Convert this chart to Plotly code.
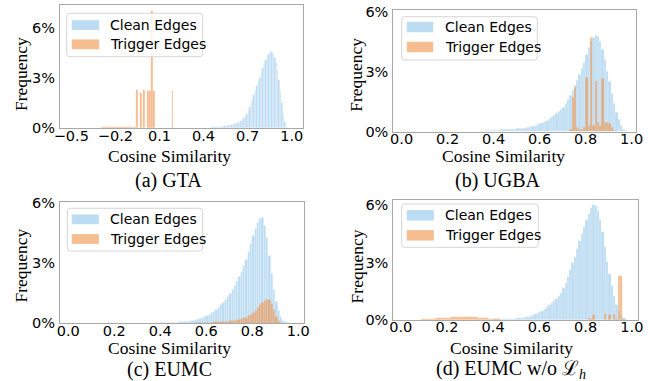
import plotly.graph_objects as go

W, H = 657, 381
BIN_W = 0.01

# ---------------- data (percent per 0.01-wide bin) ----------------
# (a) GTA
clean_a_start = 0.40
clean_a = [0.02, 0.03, 0.03, 0.04, 0.04, 0.05, 0.05, 0.06, 0.06, 0.07,
           0.08, 0.09, 0.10, 0.11, 0.12, 0.13, 0.15, 0.17, 0.19, 0.21,
           0.23, 0.26, 0.29, 0.33, 0.37, 0.42, 0.50, 0.60, 0.72, 0.86,
           1.02, 1.25, 1.50, 1.75, 2.00, 2.25, 2.50, 2.75, 3.00, 3.30,
           3.60, 3.90, 4.10, 4.25, 4.40, 4.60, 4.55, 4.45, 4.20, 3.90,
           3.50, 2.90, 2.20, 1.50, 0.85, 0.35, 0.10]
trig_a_low_start = -0.33
trig_a_low = [0.02, 0.03, 0.04, 0.05, 0.05, 0.06, 0.07, 0.07, 0.08, 0.08,
              0.09, 0.09, 0.10, 0.10, 0.10, 0.10, 0.09, 0.09, 0.09, 0.08,
              0.08, 0.08, 0.07, 0.07, 0.06, 0.06, 0.05]
trig_a_spike_x = [-0.055, -0.028, -0.007, 0.024, 0.036, 0.049, 0.063, 0.188]
trig_a_spike_y = [2.3, 2.1, 2.3, 2.2, 2.2, 7.0, 2.2, 2.2]

# (b) UGBA
clean_b_start = 0.35
clean_b = [0.03, 0.03, 0.04, 0.05, 0.05, 0.06, 0.07, 0.08, 0.09, 0.10,
           0.10, 0.11, 0.12, 0.12, 0.13, 0.14, 0.15, 0.17, 0.18, 0.20,
           0.22, 0.25, 0.28, 0.31, 0.35, 0.40, 0.45, 0.52, 0.58, 0.66,
           0.74, 0.82, 0.90, 1.00, 1.10, 1.20, 1.40, 1.60, 1.80, 2.05,
           2.30, 2.55, 2.85, 3.15, 3.45, 3.85, 4.20, 4.50, 4.70, 4.80,
           4.75, 4.50, 4.10, 3.60, 3.00, 2.50, 1.90, 1.40, 0.95, 0.60,
           0.30, 0.12, 0.04]
trig_b_start = 0.73
trig_b = [0.10, 1.70, 2.20, 0.20, 0.10, 0.10, 0.20, 2.70, 0.30, 4.70,
          0.30, 2.50, 0.45, 0.30, 2.65, 0.45, 0.45, 0.40, 0.20, 0.05]

# (c) EUMC
clean_c_start = 0.40
clean_c = [0.02, 0.02, 0.03, 0.03, 0.04, 0.04, 0.05, 0.05, 0.06, 0.07,
           0.08, 0.09, 0.10, 0.12, 0.14, 0.17, 0.20, 0.24, 0.28, 0.33,
           0.39, 0.45, 0.52, 0.60, 0.70, 0.80, 0.92, 1.05, 1.20, 1.35,
           1.50, 1.68, 1.88, 2.10, 2.35, 2.60, 2.90, 3.20, 3.60, 4.00,
           4.40, 4.75, 5.05, 5.25, 5.30, 4.90, 4.30, 3.40, 2.50, 1.70,
           1.10, 0.65, 0.35, 0.15, 0.06, 0.02]
trig_c_start = 0.55
trig_c = [0.02, 0.02, 0.03, 0.03, 0.04, 0.04, 0.05, 0.05, 0.06, 0.06,
          0.07, 0.07, 0.08, 0.09, 0.10, 0.11, 0.13, 0.15, 0.17, 0.20,
          0.23, 0.26, 0.30, 0.36, 0.45, 0.55, 0.65, 0.78, 0.92, 1.05,
          1.15, 1.20, 1.18, 1.00, 0.70, 0.35, 0.12, 0.04]

# (d) EUMC w/o L_h
clean_d_start = 0.35
clean_d = [0.01, 0.01, 0.02, 0.02, 0.02, 0.03, 0.03, 0.04, 0.05, 0.05,
           0.05, 0.06, 0.06, 0.07, 0.07, 0.08, 0.09, 0.10, 0.12, 0.14,
           0.17, 0.20, 0.24, 0.30, 0.36, 0.42, 0.49, 0.57, 0.66, 0.76,
           0.87, 0.98, 1.12, 1.27, 1.43, 1.65, 1.95, 2.25, 2.60, 2.95,
           3.30, 3.70, 4.10, 4.50, 4.85, 5.20, 5.55, 5.85, 6.00, 5.95,
           5.70, 5.20, 4.60, 3.80, 3.00, 2.40, 1.80, 1.25, 0.80, 0.45,
           0.20, 0.08, 0.03]
trig_d_low_start = 0.08
trig_d_low = [0.02, 0.03, 0.04, 0.05, 0.05, 0.06, 0.07, 0.08, 0.09, 0.10,
              0.11, 0.12, 0.13, 0.13, 0.14, 0.15, 0.15, 0.16, 0.16, 0.17,
              0.18, 0.17, 0.16, 0.15, 0.14, 0.12, 0.11, 0.10, 0.09, 0.08,
              0.07, 0.06, 0.05, 0.04, 0.03, 0.02, 0.02]
trig_d_high_start = 0.80
trig_d_high = [0.00, 0.10, 0.03, 0.26, 0.02, 0.02, 0.02, 0.02, 0.30, 0.02,
               0.28, 0.02, 0.30, 0.05, 2.30, 2.32, 0.05]

x_ticks_a = [-0.5, -0.2, 0.1, 0.4, 0.7, 1.0]
x_labels_a = ["\u22120.5", "\u22120.2", "0.1", "0.4", "0.7", "1.0"]
x_ticks = [0.0, 0.2, 0.4, 0.6, 0.8, 1.0]
x_labels = ["0.0", "0.2", "0.4", "0.6", "0.8", "1.0"]
y_ticks = [0, 3, 6]
y_labels = ["0%", "3%", "6%"]
captions = ["(a) GTA", "(b) UGBA", "(c) EUMC", "(d) EUMC w/o \u2112<sub><i>h</i></sub>"]
series_names = ["Clean Edges", "Trigger Edges"]

# ---------------- styling ----------------
BLUE = "rgba(120,185,230,0.5)"
ORANGE = "rgba(238,145,70,0.6)"
EDGE = "rgba(255,255,255,0.55)"
EDGE_O = "rgba(255,255,255,0.3)"
SANS = "DejaVu Sans"
SERIF = "Liberation Serif"


def X(px):
    return px / W


def Y(py):
    return 1 - py / H


def centers(start, vals):
    return [round(start + i * BIN_W + BIN_W / 2, 4) for i in range(len(vals))]


fig = go.Figure()

panels = [
    dict(sfx="", dom_x=(60, 303), dom_y=(5, 128.3), xr=(-0.577, 1.077), yr=(0, 7.35),
         tv=x_ticks_a, tt=x_labels_a,
         clean=(clean_a_start, clean_a),
         trig=[(centers(trig_a_low_start, trig_a_low), trig_a_low, BIN_W),
               (trig_a_spike_x, trig_a_spike_y, 0.012)]),
    dict(sfx="2", dom_x=(393.3, 636), dom_y=(9.5, 131.7), xr=(-0.036, 1.019), yr=(0, 6.11),
         tv=x_ticks, tt=x_labels,
         clean=(clean_b_start, clean_b),
         trig=[(centers(trig_b_start, trig_b), trig_b, BIN_W)]),
    dict(sfx="3", dom_x=(60, 304), dom_y=(201.7, 323.3), xr=(-0.036, 1.025), yr=(0, 6.08),
         tv=x_ticks, tt=x_labels,
         clean=(clean_c_start, clean_c),
         trig=[(centers(trig_c_start, trig_c), trig_c, BIN_W)]),
    dict(sfx="4", dom_x=(393.3, 638.3), dom_y=(200, 320), xr=(-0.032, 1.028), yr=(0, 6.26),
         tv=x_ticks, tt=x_labels,
         clean=(clean_d_start, clean_d),
         trig=[(centers(trig_d_low_start, trig_d_low), trig_d_low, BIN_W),
               (centers(trig_d_high_start, trig_d_high), trig_d_high, BIN_W)]),
]

layout_axes = {}
for p in panels:
    s = p["sfx"]
    xa, ya = "x" + s, "y" + s
    cs, cv = p["clean"]
    fig.add_trace(go.Bar(x=centers(cs, cv), y=cv, width=BIN_W, xaxis=xa, yaxis=ya,
                         marker=dict(color=BLUE, line=dict(color=EDGE, width=0.5)),
                         name=series_names[0], showlegend=False))
    for tx, ty, bw in p["trig"]:
        fig.add_trace(go.Bar(x=tx, y=ty, width=bw, xaxis=xa, yaxis=ya,
                             marker=dict(color=ORANGE, line=dict(color=EDGE_O, width=0.3)),
                             name=series_names[1], showlegend=False))
    common = dict(showline=True, linecolor="#a8a8a8", linewidth=1, mirror=True,
                  showgrid=False, zeroline=False, ticks="",
                  tickfont=dict(family=SANS, size=14.5, color="black"))
    layout_axes["xaxis" + s] = dict(domain=[X(p["dom_x"][0]), X(p["dom_x"][1])],
                                    range=list(p["xr"]), anchor=ya,
                                    tickmode="array", tickvals=p["tv"], ticktext=p["tt"],
                                    ticklabelstandoff=-6, **common)
    layout_axes["yaxis" + s] = dict(domain=[Y(p["dom_y"][1]), Y(p["dom_y"][0])],
                                    range=list(p["yr"]), anchor=xa,
                                    tickmode="array", tickvals=y_ticks, ticktext=y_labels,
                                    ticklabelstandoff=1, **common)

fig.update_layout(width=W, height=H, margin=dict(l=0, r=0, t=0, b=0, autoexpand=False),
                  paper_bgcolor="white", plot_bgcolor="white",
                  barmode="overlay", bargap=0, showlegend=False, **layout_axes)

annotations = []
shapes = []

# axis titles and captions
xtitle_pos = [(169, 156), (503, 156), (169, 347.5), (511.7, 347.5)]
ytitle_pos = [(20.8, 74.2), (355.8, 75), (20.8, 265.8), (356.7, 266.7)]
caption_pos = [(168, 180), (497.5, 180), (169, 369), (510.8, 369)]
for i in range(4):
    annotations.append(dict(text="Cosine Similarity", x=X(xtitle_pos[i][0]), y=Y(xtitle_pos[i][1]),
                            xref="paper", yref="paper", showarrow=False,
                            xanchor="center", yanchor="middle",
                            font=dict(family=SERIF, size=17.5, color="black")))
    annotations.append(dict(text="Frequency", x=X(ytitle_pos[i][0]), y=Y(ytitle_pos[i][1]),
                            xref="paper", yref="paper", showarrow=False, textangle=-90,
                            xanchor="center", yanchor="middle",
                            font=dict(family=SERIF, size=17.5, color="black")))
    annotations.append(dict(text=captions[i], x=X(caption_pos[i][0]), y=Y(caption_pos[i][1]),
                            xref="paper", yref="paper", showarrow=False,
                            xanchor="center", yanchor="middle",
                            font=dict(family=SERIF, size=20, color="black")))


def rrect(x0, y0, x1, y1, r=3):
    return (f"M {X(x0 + r)},{Y(y0)} L {X(x1 - r)},{Y(y0)} Q {X(x1)},{Y(y0)} {X(x1)},{Y(y0 + r)} "
            f"L {X(x1)},{Y(y1 - r)} Q {X(x1)},{Y(y1)} {X(x1 - r)},{Y(y1)} "
            f"L {X(x0 + r)},{Y(y1)} Q {X(x0)},{Y(y1)} {X(x0)},{Y(y1 - r)} "
            f"L {X(x0)},{Y(y0 + r)} Q {X(x0)},{Y(y0)} {X(x0 + r)},{Y(y0)} Z")


# legends: frame, patch1, patch2, text x, text y1, text y2
legends = [
    ((66.7, 13.3, 202.7, 56.7), (71.7, 20, 99.3, 30), (71.7, 39.3, 99.3, 49.3), 108.3, 25, 44.3),
    ((401.7, 16.7, 537.3, 60), (406.7, 21.7, 433.3, 32.3), (406.7, 41.7, 433.3, 52.3), 443.3, 27.3, 47.3),
    ((67.3, 208.3, 202.7, 251), (71.7, 214.3, 99, 224.3), (71.7, 234, 99, 244), 108.3, 219.3, 239),
    ((401.7, 204, 538.3, 247.3), (406.7, 210, 434, 220.7), (406.7, 230, 434, 240.7), 443.3, 215, 235),
]
for frame, p1, p2, tx, ty1, ty2 in legends:
    shapes.append(dict(type="path", path=rrect(*frame), xref="paper", yref="paper",
                       fillcolor="rgba(255,255,255,0.8)", line=dict(color="#d6d6d6", width=1),
                       layer="above"))
    for patch, col in ((p1, BLUE), (p2, ORANGE)):
        shapes.append(dict(type="rect", x0=X(patch[0]), x1=X(patch[2]), y0=Y(patch[3]), y1=Y(patch[1]),
                           xref="paper", yref="paper", fillcolor=col,
                           line=dict(color=EDGE, width=0.5), layer="above"))
    for name, ty in ((series_names[0], ty1), (series_names[1], ty2)):
        annotations.append(dict(text=name, x=X(tx), y=Y(ty), xref="paper", yref="paper",
                                showarrow=False, xanchor="left", yanchor="middle",
                                font=dict(family=SANS, size=14, color="black")))

fig.update_layout(annotations=annotations, shapes=shapes)
fig.write_html("out.html", config={"displayModeBar": False},
               post_script="document.body.style.margin='0';document.body.style.padding='0';")
